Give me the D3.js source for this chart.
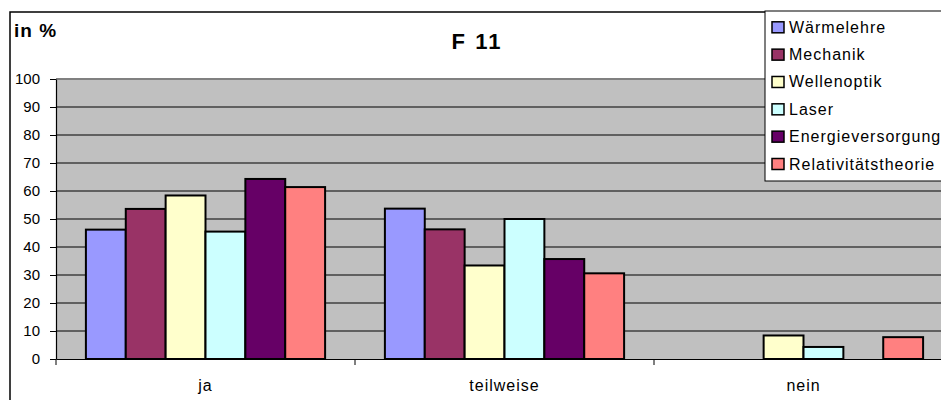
<!DOCTYPE html>
<html>
<head>
<meta charset="utf-8">
<script src="https://cdn.jsdelivr.net/npm/d3@7"></script>
<style>
  html, body { margin: 0; padding: 0; background: #fff; }
  svg { display: block; font-family: "Liberation Sans", Arial, sans-serif; }
</style>
</head>
<body>
<svg id="chart" width="941" height="400"></svg>
<script>
// Answer categories on the x axis
const categories = ["ja", "teilweise", "nein"];
// Subject areas (one bar per subject in each category)
const series = ["Wärmelehre", "Mechanik", "Wellenoptik", "Laser", "Energieversorgung", "Relativitätstheorie"];
const seriesColors = ["#9999FF", "#993366", "#FFFFCC", "#CCFFFF", "#660066", "#FF8080"];
// Share of answers in percent, per subject
const valuesJa        = [46.2, 53.6, 58.4, 45.5, 64.3, 61.4];
const valuesTeilweise = [53.7, 46.3, 33.4, 50.0, 35.7, 30.6];
const valuesNein      = [0, 0, 8.4, 4.3, 0, 7.8];
const yTicks = [0, 10, 20, 30, 40, 50, 60, 70, 80, 90, 100];

const valuesByCategory = [valuesJa, valuesTeilweise, valuesNein];

const svg = d3.select("#chart");

// Outer chart frame (extends past the visible window on the right and bottom)
svg.append("rect")
  .attr("x", 10).attr("y", 12)
  .attr("width", 1000).attr("height", 500)
  .attr("fill", "#fff").attr("stroke", "#000").attr("stroke-width", 1.5);

const plot = { left: 56, top: 79, right: 953, bottom: 359 };

const x = d3.scaleBand().domain(categories).range([plot.left, plot.right]).paddingInner(0).paddingOuter(0);
const xSub = d3.scaleBand().domain(series).range([0, x.bandwidth()]).paddingInner(0).paddingOuter(0.75);
const y = d3.scaleLinear().domain([0, 100]).range([plot.bottom, plot.top]);

// Plot background
svg.append("rect")
  .attr("x", plot.left).attr("y", plot.top)
  .attr("width", plot.right - plot.left).attr("height", plot.bottom - plot.top)
  .attr("fill", "#C0C0C0");

// Horizontal gridlines
svg.append("g").selectAll("line")
  .data(yTicks.filter(t => t > 0))
  .join("line")
  .attr("x1", plot.left).attr("x2", plot.right)
  .attr("y1", d => y(d)).attr("y2", d => y(d))
  .attr("stroke", d => d === 100 ? "#808080" : "#000")
  .attr("stroke-width", d => d === 100 ? 2 : 1);

// Bars
const groups = svg.append("g").selectAll("g")
  .data(categories)
  .join("g")
  .attr("transform", d => `translate(${x(d)},0)`);

groups.selectAll("rect")
  .data((c, i) => series.map((s, j) => ({ s, j, v: valuesByCategory[i][j] })).filter(d => d.v > 0))
  .join("rect")
  .attr("x", d => xSub(d.s))
  .attr("width", xSub.bandwidth())
  .attr("y", d => y(d.v))
  .attr("height", d => y(0) - y(d.v))
  .attr("fill", d => seriesColors[d.j])
  .attr("stroke", "#000")
  .attr("stroke-width", 2);

// Y axis
const yAxis = svg.append("g")
  .attr("transform", `translate(${plot.left},0)`)
  .call(d3.axisLeft(y).tickValues(yTicks).tickSize(6).tickPadding(10).tickSizeOuter(0));
yAxis.select(".domain").attr("stroke", "#000").attr("stroke-width", 1.2);
yAxis.selectAll(".tick line").attr("stroke", "#000");
yAxis.selectAll("text")
  .attr("font-size", 15).attr("font-family", "'Liberation Sans', Arial, sans-serif")
  .attr("fill", "#000");

// X axis: labels centred in each category, ticks between categories
const xAxis = svg.append("g")
  .attr("transform", `translate(0,${plot.bottom})`)
  .call(d3.axisBottom(x).tickSize(0).tickSizeOuter(0));
xAxis.select(".domain").attr("stroke", "#000").attr("stroke-width", 1.2);
xAxis.selectAll("text")
  .attr("dy", null).attr("y", 32)
  .attr("font-size", 16).attr("font-family", "'Liberation Sans', Arial, sans-serif")
  .attr("fill", "#000").attr("letter-spacing", 1);
xAxis.append("g").selectAll("line")
  .data(categories)
  .join("line")
  .attr("x1", d => x(d)).attr("x2", d => x(d))
  .attr("y1", 0).attr("y2", 6)
  .attr("stroke", "#000");

// Axis unit label
svg.append("text")
  .attr("x", 14).attr("y", 37)
  .attr("font-size", 19).attr("font-weight", "bold")
  .attr("letter-spacing", 1)
  .text("in %");

// Chart title
svg.append("text")
  .attr("x", 477).attr("y", 49)
  .attr("text-anchor", "middle")
  .attr("font-size", 22).attr("font-weight", "bold")
  .attr("letter-spacing", 2)
  .text("F 11");

// Legend
const legend = svg.append("g");
legend.append("rect")
  .attr("x", 765).attr("y", 11)
  .attr("width", 300).attr("height", 170)
  .attr("fill", "#fff").attr("stroke", "#000").attr("stroke-width", 1);

const rowY = d3.scalePoint().domain(series).range([27.3, 164]);
const items = legend.selectAll("g.item")
  .data(series)
  .join("g")
  .attr("class", "item")
  .attr("transform", d => `translate(0,${rowY(d)})`);
items.append("rect")
  .attr("x", 772).attr("y", -5.5)
  .attr("width", 12).attr("height", 11)
  .attr("fill", (d, i) => seriesColors[i])
  .attr("stroke", "#000").attr("stroke-width", 1.5);
items.append("text")
  .attr("x", 789).attr("y", 5.5)
  .attr("font-size", 16).attr("letter-spacing", 1)
  .text(d => d);
</script>
</body>
</html>
